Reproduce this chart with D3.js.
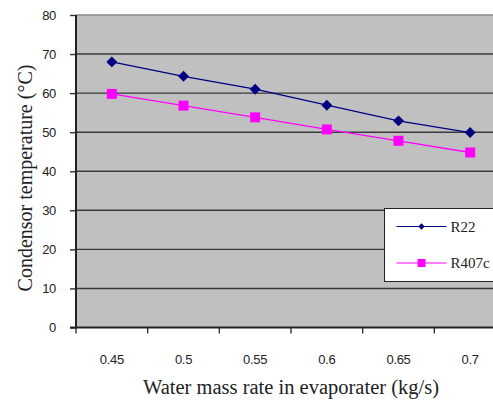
<!DOCTYPE html>
<html>
<head>
<meta charset="utf-8">
<script src="https://cdn.jsdelivr.net/npm/d3@7"></script>
<style>
  body { margin: 0; background: #fff; }
  svg { display: block; }
</style>
</head>
<body>
<div id="chart"></div>
<script>
const categories = ['0.45', '0.5', '0.55', '0.6', '0.65', '0.7'];
const r22 = [68.0, 64.3, 61.0, 56.9, 52.9, 49.9];
const r407c = [59.8, 56.8, 53.8, 50.7, 47.8, 44.8];
const yTicks = [0, 10, 20, 30, 40, 50, 60, 70, 80];

const width = 493, height = 402;
const margin = {top: 15, right: -13, bottom: 74.5, left: 76};
const plotW = width - margin.left - margin.right,
    plotH = height - margin.top - margin.bottom;

const svg = d3.select('#chart').append('svg')
    .attr('width', width)
    .attr('height', height);

const g = svg.append('g')
    .attr('transform', `translate(${margin.left},${margin.top})`);

const xScale = d3.scaleBand()
    .domain(categories)
    .range([0, plotW])
    .padding(0);

const yScale = d3.scaleLinear()
    .domain([0, 80])
    .range([plotH, 0]);

// plot background
g.append('rect')
    .attr('x', 0).attr('y', 0)
    .attr('width', plotW).attr('height', plotH)
    .style('fill', '#c0c0c0');

// gridlines
g.selectAll('.grid')
    .data(yTicks.filter(d => d > 0))
    .join('line')
    .attr('class', 'grid')
    .attr('x1', 0).attr('x2', plotW)
    .attr('y1', d => yScale(d)).attr('y2', d => yScale(d))
    .style('stroke', d => d === 80 ? '#8a8a8a' : '#3a3a3a')
    .style('stroke-width', 1.4);

const tickFont = sel => sel
    .style('font-family', 'Liberation Sans, Arial, sans-serif')
    .style('font-size', '13px')
    .style('letter-spacing', '-0.3px')
    .style('fill', '#222');

// y axis
const yAxis = g.append('g')
    .call(d3.axisLeft(yScale).tickValues(yTicks).tickSize(6).tickPadding(14));
yAxis.select('.domain').remove();
yAxis.selectAll('.tick line').style('stroke', '#333').style('stroke-width', 1.4);
yAxis.selectAll('text').call(tickFont);

g.append('line')
    .attr('x1', 0).attr('x2', 0)
    .attr('y1', 0).attr('y2', plotH)
    .style('stroke', '#222').style('stroke-width', 2);

// x axis, ticks between categories
const xAxis = g.append('g')
    .attr('transform', `translate(0,${plotH})`)
    .call(d3.axisBottom(xScale).tickSize(0).tickPadding(27));
xAxis.select('.domain').remove();
xAxis.selectAll('text').call(tickFont);

g.append('g')
    .selectAll('line')
    .data(categories)
    .join('line')
    .attr('x1', d => xScale(d)).attr('x2', d => xScale(d))
    .attr('y1', plotH).attr('y2', plotH + 6)
    .style('stroke', '#333').style('stroke-width', 1.4);

g.append('line')
    .attr('x1', -6).attr('x2', plotW)
    .attr('y1', plotH).attr('y2', plotH)
    .style('stroke', '#222').style('stroke-width', 2);

// series
const cx = d => xScale(d) + xScale.bandwidth() / 2;
const series = [
    {name: 'R22', values: r22, color: '#000080', size: 60, legendSize: 20, rotate: 45},
    {name: 'R407c', values: r407c, color: '#ff00ff', size: 100, legendSize: 64, rotate: 0}
];

series.forEach(s => {
    const pts = categories.map((c, i) => [cx(c), yScale(s.values[i])]);
    g.append('path')
        .datum(pts)
        .attr('d', d3.line())
        .style('fill', 'none')
        .style('stroke', s.color)
        .style('stroke-width', 1.3);
    g.selectAll(null)
        .data(pts)
        .join('path')
        .attr('transform', d => `translate(${d[0]},${d[1]}) rotate(${s.rotate})`)
        .attr('d', d3.symbol().type(d3.symbolSquare).size(s.size))
        .style('fill', s.color);
});

// legend
const legend = svg.append('g').attr('transform', 'translate(384.5,208.5)');
legend.append('rect')
    .attr('width', 130).attr('height', 73)
    .style('fill', '#fff')
    .style('stroke', '#222')
    .style('stroke-width', 1);
series.forEach((s, i) => {
    const ly = 18 + i * 36.5;
    legend.append('line')
        .attr('x1', 12).attr('x2', 62)
        .attr('y1', ly).attr('y2', ly)
        .style('stroke', s.color).style('stroke-width', 1.2);
    legend.append('path')
        .attr('transform', `translate(37,${ly}) rotate(${s.rotate})`)
        .attr('d', d3.symbol().type(d3.symbolSquare).size(s.legendSize))
        .style('fill', s.color);
    legend.append('text')
        .attr('x', 66).attr('y', ly)
        .attr('dy', '0.35em')
        .text(s.name)
        .style('font-family', 'Liberation Serif, Times New Roman, serif')
        .style('font-size', '15px')
        .style('fill', '#222');
});

// axis titles
svg.append('text')
    .attr('x', 291).attr('y', 387)
    .attr('dy', '0.35em')
    .attr('text-anchor', 'middle')
    .text('Water mass rate in evaporater (kg/s)')
    .style('font-family', 'Liberation Serif, Times New Roman, serif')
    .style('font-size', '20.5px')
    .style('fill', '#222');

svg.append('text')
    .attr('transform', 'translate(25,178) rotate(-90)')
    .attr('dy', '0.35em')
    .attr('text-anchor', 'middle')
    .text('Condensor temperature (°C)')
    .style('font-family', 'Liberation Serif, Times New Roman, serif')
    .style('font-size', '20px')
    .style('fill', '#222');
</script>
</body>
</html>
